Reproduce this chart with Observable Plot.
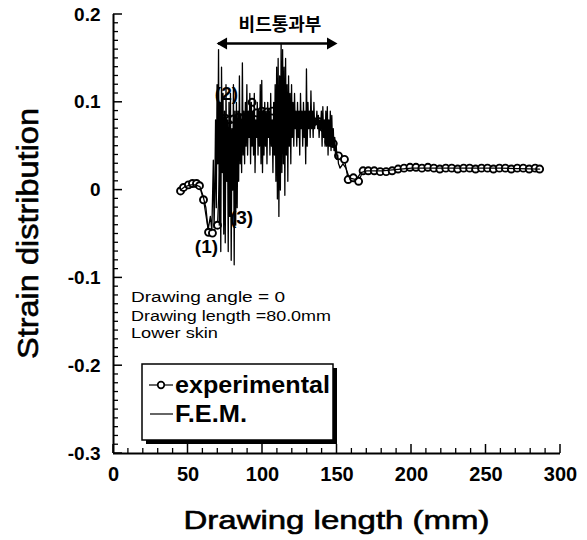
<!DOCTYPE html>
<html><head><meta charset="utf-8">
<script src="https://cdn.jsdelivr.net/npm/d3@7"></script>
<script src="https://cdn.jsdelivr.net/npm/@observablehq/plot@0.6"></script>
<style>body{margin:0;background:#fff} svg{display:block}</style>
</head><body><div id="chart"></div>
<script>
// ---- axis ticks ----
const xTicks = [0, 50, 100, 150, 200, 250, 300];
const yTicks = [0.2, 0.1, 0, -0.1, -0.2, -0.3];
const xMinorStep = 10;
const yMinorStep = 0.01;

// ---- experimental series (circles) ----
const expX = [45, 47, 50.3, 53, 55.7, 57.7, 60.4, 63.8, 66.4, 69.8, 72.5, 75, 78, 80.5, 84, 87.5, 90.5, 93, 96, 99.5,
  103, 106.5, 110, 113.5, 117, 120.5, 124, 127.5, 131, 134.5, 138, 141, 144.5, 147.5, 151, 155, 157.5, 161, 164.5, 167.5,
  171, 175, 179, 183, 187, 191, 195, 199, 203, 207, 211, 215, 219, 223, 227, 231, 235, 239, 243, 247,
  251, 255, 259, 263, 267, 271, 275, 279, 283, 286];
const expY = [-0.001, 0.003, 0.006, 0.0075, 0.0075, 0.005, -0.011, -0.048, -0.049, -0.040, 0.075, 0.082, 0.080, 0.081, 0.083, 0.083, 0.082, 0.100, 0.088, 0.090,
  0.089, 0.090, 0.088, 0.087, 0.084, 0.081, 0.079, 0.079, 0.079, 0.078, 0.078, 0.071, 0.055, 0.053, 0.039, 0.035, 0.012, 0.014, 0.010, 0.022,
  0.022, 0.022, 0.021, 0.021, 0.022, 0.024, 0.025, 0.026, 0.026, 0.025, 0.026, 0.025, 0.024, 0.025, 0.025, 0.024, 0.025, 0.025, 0.024, 0.025,
  0.025, 0.024, 0.025, 0.025, 0.024, 0.025, 0.025, 0.024, 0.025, 0.024];

// ---- F.E.M. series (thin line) ----
const femLeadX = [45, 48, 52, 55, 58, 60, 62, 63.5, 65, 66, 67, 67.5];
const femLeadY = [0.0, 0.004, 0.006, 0.006, 0.004, -0.006, -0.02, -0.045, -0.03, -0.046, 0.034, -0.043];
const femBeadStart = 68, femBeadStep = 0.5;   // sampling grid of the bead region
const femBeadY = [
  0.00, 0.08, -0.02, 0.12, 0.03, 0.16, -0.04, 0.10, -0.07, 0.14,
  0.02, 0.11, -0.05, 0.09, -0.06, 0.12, 0.01, 0.08, -0.07, 0.10,
  -0.03, 0.11, -0.08, 0.07, 0.00, 0.12, -0.085, 0.09, -0.04, 0.10,
  -0.02, 0.09, 0.01, 0.13, 0.03, 0.08, 0.02, 0.145, 0.04, 0.09,
  0.03, 0.10, 0.05, 0.12, 0.04, 0.09, 0.06, 0.11, 0.03, 0.10,
  0.05, 0.09, 0.04, 0.11, 0.02, 0.08, 0.06, 0.10, 0.04, 0.09,
  0.05, 0.12, 0.03, 0.125, 0.02, 0.09, 0.04, 0.10, 0.05, 0.09,
  0.03, 0.10, 0.06, 0.09, 0.04, 0.11, 0.05, 0.08, 0.02, 0.10,
  0.04, 0.12, 0.01, 0.14, -0.01, 0.15, -0.03, 0.13, 0.00, 0.167,
  0.02, 0.16, 0.03, 0.14, -0.006, 0.15, 0.04, 0.12, 0.01, 0.13,
  0.05, 0.11, 0.03, 0.12, 0.06, 0.10, 0.05, 0.11, 0.07, 0.09,
  0.05, 0.10, 0.06, 0.09, 0.04, 0.11, 0.07, 0.09, 0.05, 0.10,
  0.06, 0.09, 0.03, 0.138, 0.05, 0.10, 0.07, 0.09, 0.06, 0.113,
  0.07, 0.09, 0.06, 0.10, 0.07, 0.08, 0.075, 0.09, 0.07, 0.085,
  0.06, 0.08, 0.07, 0.09, 0.05, 0.095, 0.06, 0.08, 0.05, 0.09,
  0.05, 0.095, 0.04, 0.08, 0.05, 0.09, 0.045, 0.085, 0.05, 0.07,
  0.045, 0.06, 0.04, 0.05, 0.035, 0.04, 0.03, 0.028, 0.025];
const femTailX = [154, 156, 158, 160, 163, 166, 170, 180, 200, 230, 260, 286];
const femTailY = [0.030, 0.025, 0.015, 0.013, 0.012, 0.020, 0.022, 0.022, 0.025, 0.025, 0.025, 0.024];

// ---- annotations ----
const beadSpan = [70.5, 149];
const beadY = 0.167;
const beadLabel = "비드통과부";
const pointLabels = [
  {text: "(1)", x: 62.4, y: -0.065},
  {text: "(2)", x: 75.8, y: 0.110},
  {text: "(3)", x: 85.9, y: -0.032}
];
const infoLines = ["Drawing angle = 0", "Drawing length =80.0mm", "Lower skin"];
const legendLabels = ["experimental", "F.E.M."];
const xTitle = "Drawing length (mm)";
const yTitle = "Strain distribution";

// ---- build tables ----
const exp = expX.map((x, i) => ({x, y: expY[i]}));
const fem = [
  ...femLeadX.map((x, i) => ({x, y: femLeadY[i]})),
  ...femBeadY.map((y, i) => ({x: femBeadStart + femBeadStep * i, y})),
  ...femTailX.map((x, i) => ({x, y: femTailY[i]}))
];
const xMinor = d3.range(0, 300 + 1e-9, xMinorStep).filter(v => !xTicks.includes(v));
const yMinor = d3.range(-30, 21).map(v => v * yMinorStep).filter(v => !yTicks.some(t => Math.abs(t - v) < 1e-9));

const FONT = "'Liberation Sans', Arial, Helvetica, sans-serif";

const chart = Plot.plot({
  width: 587, height: 540,
  marginLeft: 113, marginRight: 27, marginTop: 14, marginBottom: 87,
  style: {fontFamily: FONT, background: "white", color: "black"},
  x: {domain: [0, 300]},
  y: {domain: [-0.3, 0.2]},
  marks: [
    Plot.axisX({ticks: xTicks, tickSize: 0, tickPadding: 13, fontSize: 20, fontWeight: "bold", label: null, tickFormat: d => String(d)}),
    Plot.axisY({ticks: yTicks, tickSize: 0, tickPadding: 13, fontSize: 19, fontWeight: "bold", label: null, tickFormat: d => String(d)}),
    Plot.ruleX([0], {stroke: "black", strokeWidth: 2}),
    Plot.ruleY([-0.3], {stroke: "black", strokeWidth: 2}),
    // experimental
    Plot.line(exp, {x: "x", y: "y", stroke: "black", strokeWidth: 1.2}),
    Plot.dot(exp, {x: "x", y: "y", r: 3.5, fill: "white", stroke: "black", strokeWidth: 1.9}),
    // FEM
    Plot.line(fem, {x: "x", y: "y", stroke: "black", strokeWidth: 1.3}),
    // bead arrow
    Plot.ruleY([beadY], {x1: beadSpan[0], x2: beadSpan[1], stroke: "black", strokeWidth: 2.5}),
    Plot.dot([beadSpan[0]], {x: d => d, y: beadY, symbol: "triangle", r: 4.5, rotate: -90, dx: 5, fill: "black"}),
    Plot.dot([beadSpan[1]], {x: d => d, y: beadY, symbol: "triangle", r: 4.5, rotate: 90, dx: -5, fill: "black"}),
    Plot.text([beadLabel], {x: (beadSpan[0] + beadSpan[1]) / 2, y: beadY, dy: -18, dx: 3, text: d => d,
      fontFamily: "'Noto Sans CJK KR', sans-serif", fontWeight: "bold", fontSize: 18}),
    // numbered labels
    Plot.text(pointLabels, {x: "x", y: "y", text: "text", fontSize: 19, fontWeight: "bold"})
  ]
});
document.getElementById("chart").appendChild(chart);

const svg = d3.select(chart);
const sx = chart.scale("x"), sy = chart.scale("y");
const x0 = sx.apply(0), yBottom = sy.apply(-0.3);

// inward ticks, placed through the plot's own scales
const tg = svg.append("g").attr("stroke", "black");
yMinor.forEach(v => tg.append("line").attr("x1", x0).attr("x2", x0 + 5).attr("y1", sy.apply(v)).attr("y2", sy.apply(v)).attr("stroke-width", 1.3));
yTicks.forEach(v => tg.append("line").attr("x1", x0).attr("x2", x0 + 9).attr("y1", sy.apply(v)).attr("y2", sy.apply(v)).attr("stroke-width", 1.5));
xMinor.forEach(v => tg.append("line").attr("x1", sx.apply(v)).attr("x2", sx.apply(v)).attr("y1", yBottom).attr("y2", yBottom - 5).attr("stroke-width", 1.3));
xTicks.forEach(v => tg.append("line").attr("x1", sx.apply(v)).attr("x2", sx.apply(v)).attr("y1", yBottom).attr("y2", yBottom - 9).attr("stroke-width", 1.5));

// ---- titles, info text, legend (layout in pixels) ----
function stretch(sel, len) { sel.attr("textLength", len).attr("lengthAdjust", "spacingAndGlyphs"); return sel; }

stretch(svg.append("text").attr("x", 336.5).attr("y", 529).attr("text-anchor", "middle")
  .attr("font-family", FONT).attr("font-size", 26).attr("fill", "black")
  .attr("stroke", "black").attr("stroke-width", 0.6).text(xTitle), 306);
stretch(svg.append("text").attr("transform", "translate(38,233.5) rotate(-90)").attr("text-anchor", "middle")
  .attr("font-family", FONT).attr("font-size", 29).attr("fill", "black")
  .attr("stroke", "black").attr("stroke-width", 0.6).text(yTitle), 251);

const infoBase = [302, 321, 338], infoLen = [154, 200, 87];
infoLines.forEach((t, i) => {
  stretch(svg.append("text").attr("x", 131).attr("y", infoBase[i]).attr("text-anchor", "start").attr("font-family", FONT)
    .attr("font-size", 14).attr("fill", "black").text(t), infoLen[i]);
});

const lg = svg.append("g");
lg.append("rect").attr("x", 146).attr("y", 368).attr("width", 191).attr("height", 76).attr("fill", "black");
lg.append("rect").attr("x", 142).attr("y", 364).attr("width", 191).attr("height", 76).attr("fill", "white").attr("stroke", "black").attr("stroke-width", 1.5);
lg.append("line").attr("x1", 149).attr("x2", 173).attr("y1", 385).attr("y2", 385).attr("stroke", "black").attr("stroke-width", 1.2);
lg.append("circle").attr("cx", 161).attr("cy", 385).attr("r", 3.3).attr("fill", "white").attr("stroke", "black").attr("stroke-width", 1.7);
lg.append("line").attr("x1", 150).attr("x2", 173).attr("y1", 414).attr("y2", 414).attr("stroke", "black").attr("stroke-width", 1.2);
stretch(lg.append("text").attr("x", 175).attr("y", 393).attr("text-anchor", "start").attr("font-family", FONT).attr("font-weight", "bold")
  .attr("font-size", 23).attr("fill", "black").text(legendLabels[0]), 155);
stretch(lg.append("text").attr("x", 175).attr("y", 422).attr("text-anchor", "start").attr("font-family", FONT).attr("font-weight", "bold")
  .attr("font-size", 23).attr("fill", "black").text(legendLabels[1]), 72);
</script>
</body></html>
